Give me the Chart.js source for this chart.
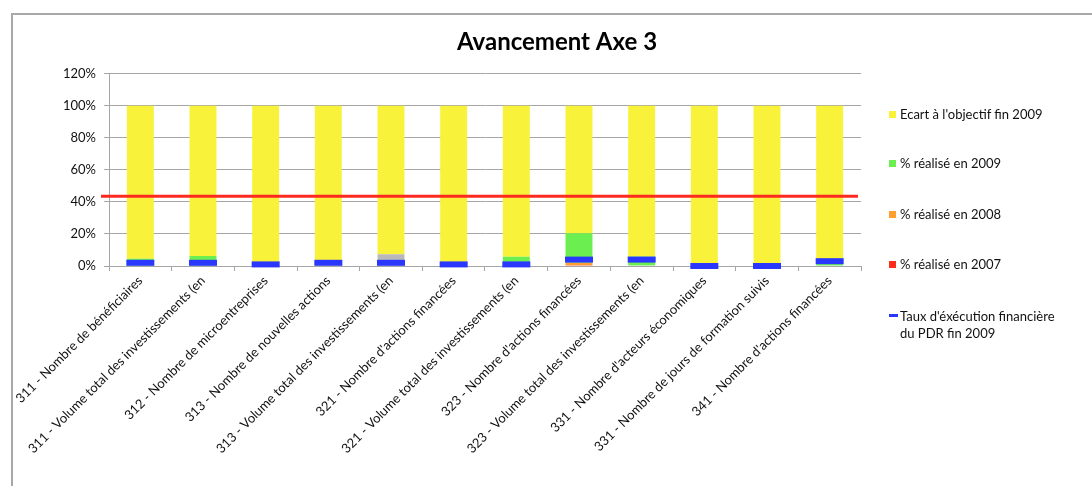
<!DOCTYPE html>
<html lang="fr">
<head>
<meta charset="utf-8">
<title>Avancement Axe 3</title>
<script src="https://cdn.jsdelivr.net/npm/chart.js@4.4.1/dist/chart.umd.min.js"></script>
<style>
  html, body { margin: 0; padding: 0; background: #fff; overflow: hidden; }
  .frame {
    position: absolute; left: 11px; top: 13px; width: 1200px; height: 600px;
    border-left: 2px solid #a8a8a8; border-top: 2px solid #a8a8a8;
  }
  #chart { position: absolute; left: 0; top: 0; }
  .legend {
    position: absolute; left: 889px; top: 0;
    font-family: Lato, "DejaVu Sans", sans-serif; font-size: 13px; color: #111;
  }
  .legend-item { position: absolute; left: 0; white-space: nowrap; line-height: 17px; }
  .legend-item .swatch { position: absolute; left: 0; top: 5px; width: 7px; height: 7px; }
  .legend-item .dash { position: absolute; left: 0; top: 6px; width: 9px; height: 3px; }
  .legend-item span.txt { display: block; padding-left: 11px; }
</style>
</head>
<body>
<div class="frame"></div>
<canvas id="chart" width="1092" height="486"></canvas>
<div class="legend" id="legend"></div>
<script>
const categories = [
  "311 - Nombre de bénéficiaires",
  "311 - Volume total des investissements (en",
  "312 - Nombre de microentreprises",
  "313 - Nombre de nouvelles actions",
  "313 - Volume total des investissements (en",
  "321 - Nombre d'actions financées",
  "321 - Volume total des investissements (en",
  "323 - Nombre d'actions financées",
  "323 - Volume total des investissements (en",
  "331 - Nombre d'acteurs économiques",
  "331 - Nombre de jours de formation suivis",
  "341 - Nombre d'actions financées"
];

// stacked shares, in percent
const realise2007 = [0, 0, 0, 0, 0, 0, 0, 0.5, 0, 0, 0, 0];
const realise2008 = [0, 0, 0, 0, 0, 0, 0, 1.5, 0, 0, 0, 0];
const realise2009 = [4.5, 6.3, 0, 0, 0, 0, 5.7, 18.4, 6, 0, 0, 2.5];
const realiseAutre = [0, 0, 0, 0, 7.4, 0, 0, 0, 0, 0, 0, 0];
const ecartObjectif = [95.5, 93.7, 100, 100, 92.6, 100, 94.3, 79.6, 94, 100, 100, 97.5];
const tauxExecution = [2, 2, 1, 2, 2, 1, 1, 4, 4, 0, 0, 3];
const objectifLine = 43.5;

const yTicks = [0, 20, 40, 60, 80, 100, 120];

const fontFamily = "Lato, 'DejaVu Sans', sans-serif";
const gridColor = "#a6a6a6";

// horizontal target line across the whole plot
const targetLinePlugin = {
  id: "targetLine",
  afterDatasetsDraw(chart) {
    const { ctx, chartArea, scales } = chart;
    const y = scales.y.getPixelForValue(objectifLine);
    ctx.save();
    ctx.strokeStyle = "#ff2a1f";
    ctx.lineWidth = 3;
    ctx.beginPath();
    ctx.moveTo(chartArea.left - 8, y);
    ctx.lineTo(chartArea.right - 3, y);
    ctx.stroke();
    ctx.restore();
  }
};

const barCommon = { stack: "s", order: 1, borderWidth: 0 };

const chart = new Chart(document.getElementById("chart"), {
  data: {
    labels: categories,
    datasets: [
      { type: "bar", label: "% réalisé en 2007", data: realise2007, backgroundColor: "#ff2b1b", ...barCommon },
      { type: "bar", label: "% réalisé en 2008", data: realise2008, backgroundColor: "#ff9f30", ...barCommon },
      { type: "bar", label: "% réalisé en 2009", data: realise2009, backgroundColor: "#6bee50", ...barCommon },
      { type: "bar", label: "Autre", data: realiseAutre, backgroundColor: "#b9b9b9", ...barCommon },
      { type: "bar", label: "Ecart à l'objectif fin 2009", data: ecartObjectif, backgroundColor: "#f8f23a", ...barCommon },
      {
        type: "line",
        label: "Taux d'éxécution financière\ndu PDR fin 2009",
        data: tauxExecution,
        showLine: false,
        pointStyle: "line",
        pointRadius: 14,
        pointHoverRadius: 14,
        pointBorderWidth: 6,
        pointHoverBorderWidth: 6,
        borderColor: "#2a37ff",
        backgroundColor: "#2a37ff",
        order: 0,
        clip: false
      }
    ]
  },
  options: {
    responsive: false,
    animation: false,
    devicePixelRatio: 1,
    layout: { padding: { left: 22, right: 0, top: 0, bottom: 0 } },
    plugins: {
      legend: { display: false },
      tooltip: { enabled: false },
      title: {
        display: true,
        text: "Avancement Axe 3",
        color: "#000",
        font: { family: fontFamily, size: 24, weight: "bold" },
        padding: { top: 28, bottom: 17 }
      }
    },
    datasets: {
      bar: { categoryPercentage: 1, barPercentage: 0.43 }
    },
    scales: {
      x: {
        stacked: true,
        offset: true,
        grid: {
          offset: true,
          drawOnChartArea: false,
          drawTicks: true,
          tickLength: 5,
          color: gridColor
        },
        border: { color: gridColor, width: 1 },
        ticks: {
          minRotation: 45,
          maxRotation: 45,
          autoSkip: false,
          padding: 2,
          color: "#111",
          font: { family: fontFamily, size: 13 }
        },
        afterFit(scale) { scale.height = 220; }
      },
      y: {
        stacked: true,
        min: 0,
        max: 120,
        afterBuildTicks(scale) { scale.ticks = yTicks.map(v => ({ value: v })); },
        grid: { color: gridColor, tickLength: 5, lineWidth: 1 },
        border: { color: gridColor, width: 1 },
        ticks: {
          padding: 8,
          color: "#111",
          font: { family: fontFamily, size: 13 },
          callback: v => v + "%"
        },
        afterFit(scale) { scale.width = 87; }
      },
      // empty right-hand axis that reserves room for the legend column
      legendSpace: {
        position: "right",
        min: 0,
        max: 1,
        grid: { display: false, drawTicks: false },
        border: { display: false },
        ticks: { display: false },
        afterFit(scale) { scale.width = 231; }
      }
    }
  },
  plugins: [targetLinePlugin]
});

// legend column to the right of the plot, built from the datasets
const legendOrder = [4, 2, 1, 0, 5];
const legendTops = [106, 155, 206, 256, 308];
const legendEl = document.getElementById("legend");
legendOrder.forEach((idx, i) => {
  const ds = chart.data.datasets[idx];
  const item = document.createElement("div");
  item.className = "legend-item";
  item.style.top = legendTops[i] + "px";
  const mark = document.createElement("div");
  mark.className = ds.type === "line" ? "dash" : "swatch";
  mark.style.background = ds.type === "line" ? ds.borderColor : ds.backgroundColor;
  item.appendChild(mark);
  ds.label.split("\n").forEach(line => {
    const t = document.createElement("span");
    t.className = "txt";
    t.textContent = line;
    item.appendChild(t);
  });
  legendEl.appendChild(item);
});
</script>
</body>
</html>
